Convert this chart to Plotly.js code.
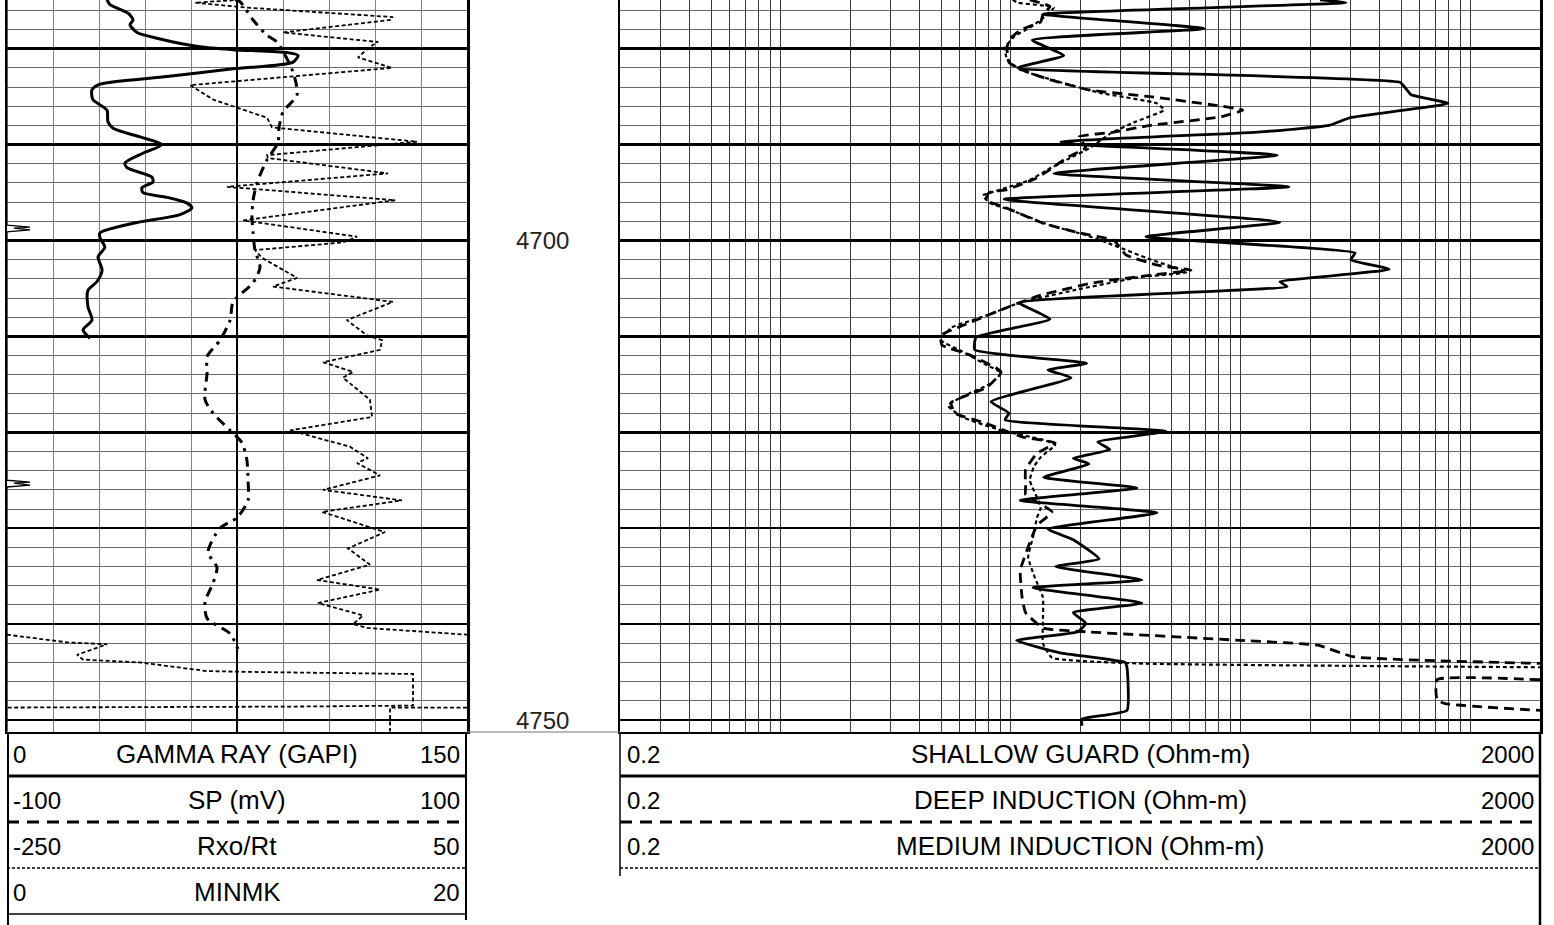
<!DOCTYPE html>
<html><head><meta charset="utf-8">
<script src="https://cdn.plot.ly/plotly-3.0.1.min.js"></script>
<style>html,body{margin:0;padding:0;background:#fff;}#chart{width:1554px;height:925px;}</style>
</head><body><div id="chart"></div>
<script>
// ---------------- DATA ----------------
const grDepth = [4674.9,4675.4,4676.3,4677.0,4677.5,4678.3,4678.9,4679.8,4680.1,4680.4,4680.7,4681.4,4682.1,4682.9,4683.7,4684.3,4685.3,4686.4,4687.6,4688.3,4689.2,4690.0,4690.9,4691.9,4692.4,4693.4,4693.9,4694.5,4695.0,4695.5,4696.1,4696.6,4697.3,4698.2,4699.2,4699.7,4700.7,4701.7,4703.1,4704.3,4705.2,4706.9,4708.3,4709.3,4710.2];
const grValue = [32.6,33.6,39.5,41.1,40.1,42.4,48.9,62.9,73.7,91.3,94.9,93.3,73.7,52.2,30.3,27.7,28.0,32.6,32.9,34.6,43.4,50.5,44.3,38.5,39.1,47.3,47.6,44.0,44.3,52.2,58.7,60.3,56.4,41.1,30.3,30.3,31.9,29.7,31.0,29.3,26.4,26.4,27.7,24.8,27.1];

const spDepth = [4674.9,4675.1,4677.0,4678.6,4679.3,4682.4,4684.8,4686.6,4688.2,4689.8,4691.6,4694.0,4695.8,4697.5,4699.2,4701.0,4702.8,4704.4,4706.4,4708.3,4710.4,4712.1,4713.8,4716.6,4718.0,4719.8,4721.1,4722.9,4725.0,4727.1,4728.9,4730.0,4732.5,4734.1,4735.7,4737.7,4739.4,4741.0,4742.6];
const spValue = [-0.9,1.3,7.0,13.0,17.4,24.3,26.1,20.0,18.3,17.8,13.0,8.7,7.0,6.5,7.0,7.8,10.0,7.0,-1.7,-3.0,-7.4,-13.0,-13.0,-13.9,-10.4,-3.0,2.2,4.3,4.8,4.8,0.0,-7.4,-12.6,-8.7,-10.4,-13.9,-13.0,-3.0,0.4];

const rxoDepth = [4674.9,4675.2,4675.7,4676.7,4677.0,4678.3,4679.3,4679.8,4680.9,4682.0,4683.8,4685.3,4687.2,4688.2,4689.7,4691.1,4691.4,4693.0,4694.4,4695.8,4697.9,4699.6,4700.2,4701.0,4701.8,4703.9,4704.8,4706.4,4708.3,4709.9,4710.4,4711.4,4712.7,4713.7,4714.3,4716.6,4718.4,4719.8,4721.5,4722.7,4723.2,4724.5,4726.0,4727.1,4728.3,4730.4,4732.1,4733.8,4735.4,4736.4,4737.8,4739.1,4740.0,4740.4,4741.1,null,4741.1,4741.9,4742.1,4743.2,4743.7,4744.0,4744.9,4745.0,4745.2,4748.5,4748.6,4748.7,null,4748.7,4748.7,4751.2];
const rxoValue = [-98.0,-127.4,-94.8,1.7,-0.2,-70.0,-8.0,-13.3,-21.1,1.1,-130.6,-115.6,-80.4,-77.2,17.4,-80.4,-79.8,-1.5,-106.5,3.1,-96.1,-21.7,-30.9,-88.3,-83.7,-60.9,-76.5,1.7,-28.3,-15.2,-5.4,-6.7,-43.9,-24.3,-30.9,-13.3,-11.9,-65.4,-26.3,-14.6,-21.7,-6.7,-43.9,7.6,-44.6,-3.5,-27.6,-13.3,-47.8,-6.7,-47.2,-17.8,-24.3,-15.2,50,null,-250,-210.9,-184.8,-204.3,-200.4,-163.3,-119.6,-85.0,14.8,14.8,-65.4,-250,null,50,-0.2,-0.2];

const minmkDepth = [4674.9,4698.4,4698.6,4698.7,4698.9,4699.1,4725.0,4725.2,4725.3,4725.5,4725.7,4751.2];
const minmkValue = [0,0,1.0,0.3,1.0,0,0,1.0,0.3,1.0,0,0];

const shallowDepth = [4674.9,4675.2,4676.4,4677.9,4679.1,4680.7,4682.0,4683.5,4684.3,4684.8,4685.7,4687.2,4688.0,4688.7,4689.7,4690.0,4691.1,4693.0,4694.4,4695.7,4698.1,4699.6,4701.3,4702.0,4703.0,4704.3,4704.8,4706.5,4708.2,4710.1,4711.4,4712.8,4713.5,4714.3,4716.8,4718.0,4718.7,4719.9,4721.0,4721.8,4722.7,4723.3,4724.7,4725.8,4727.1,4728.4,4730.1,4731.2,4733.2,4734.0,4735.4,4736.2,4737.8,4738.8,4739.9,4740.8,4741.7,4743.0,4744.0,4744.5,4749.0,4749.9,4750.6];
const shallowValue = [221,287,13.8,69.2,12.4,17.0,10.7,492,528,550,796,298,242,118,16.5,19.8,144,15.4,162,9.35,148,38.7,314,301,441,148,159,10.9,14.8,7.06,6.98,21.4,14.5,18.3,8.2,9.82,9.44,47.3,23.9,27.0,18.7,21.9,13.9,35.4,11.0,43.2,14.5,18.7,24.2,15.7,37.2,12.5,37.2,18.7,21.2,19.6,10.6,16.4,31.4,32.0,32.0,20.4,20.4];

const deepDepth = [4674.9,4675.6,4676.4,4677.2,4678.0,4678.9,4679.8,4681.4,4682.0,4683.1,4684.3,4685.0,4686.4,4687.1,4688.0,4688.7,4689.2,4690.3,4691.3,4692.6,4693.5,4694.7,4695.0,4695.8,4696.5,4698.2,4699.2,4700.0,4701.5,4702.6,4703.1,4703.6,4704.4,4705.7,4706.9,4708.6,4709.9,4710.9,4711.9,4713.7,4715.3,4716.9,4718.0,4719.0,4720.5,4721.1,4722.2,4723.9,4725.7,4726.5,4728.3,4729.7,4731.5,4734.4,4737.2,4738.8,4740.4,4740.8,4741.7,4742.2,4743.4,4744.1,null,4745.8,4745.8,4747.9,4748.3,4749.0];
const deepValue = [12.1,14.8,13.8,13.5,11.1,10.0,9.63,9.82,10.7,14.2,21.9,40.3,102,82.0,40.3,28.1,19.8,21.2,17.7,14.8,12.9,9.63,8.04,7.80,9.35,13.8,19.8,28.1,31.7,44.1,60.8,40.7,23.0,13.5,9.82,6.58,4.97,5.02,6.58,9.08,7.88,5.50,5.72,7.65,11.3,15.6,13.0,11.6,11.6,11.6,15.1,13.0,12.1,11.0,11.2,11.6,13.8,21.2,100,217,308,2000,null,2000,713,713,773,2000];

const mediumDepth = [4674.9,4675.2,4675.7,4677.0,4677.8,4678.7,4679.9,4681.1,4682.2,4683.3,4684.6,4685.7,4686.4,4687.6,4688.8,4690.4,4691.4,4692.6,4693.7,4694.7,4695.3,4696.1,4696.8,4698.4,4699.4,4700.3,4702.0,4703.3,4703.8,4705.2,4706.5,4707.8,4709.1,4710.4,4711.4,4713.0,4713.8,4714.9,4716.3,4717.2,4718.4,4719.8,4720.8,4721.3,4722.6,4723.6,4725.0,4727.8,4728.9,4730.9,4733.0,4735.1,4737.2,4739.6,4742.0,4743.5,4744.1,4744.5];
const mediumValue = [10.2,10.7,15.4,13.5,12.1,10.4,9.44,9.63,11.0,15.4,24.4,43.2,46.4,35.0,27.3,21.9,18.1,14.5,12.1,8.98,7.57,8.12,9.93,14.8,21.0,26.7,40.7,58.4,36.8,18.7,10.9,7.88,5.50,4.97,5.96,7.88,9.08,8.2,6.14,5.33,6.14,9.08,13.9,15.6,13.5,12.6,12.1,13.5,13.0,12.5,11.9,12.7,13.8,13.8,13.8,15.1,35.7,2000];

const depthLabels = [4700, 4750];
const leftCurveNames = ['GAMMA RAY (GAPI)', 'SP (mV)', 'Rxo/Rt', 'MINMK'];
const leftMins = ['0', '-100', '-250', '0'];
const leftMaxs = ['150', '100', '50', '20'];
const rightCurveNames = ['SHALLOW GUARD (Ohm-m)', 'DEEP INDUCTION (Ohm-m)', 'MEDIUM INDUCTION (Ohm-m)'];
const rightMins = ['0.2', '0.2', '0.2'];
const rightMaxs = ['2000', '2000', '2000'];
const grRange = [0, 150], spRange = [-100, 100], rxoRange = [-250, 50], minmkRange = [0, 20], resRange = [0.2, 2000];

// ---------------- LAYOUT ----------------
const W = 1554, H = 925, PB = 732;
const fx = p => p / W;
const fy = p => (PB - p) / PB;
const L0 = 7, L1 = 467, R0 = 620, R1 = 1540;
const depthTop = 4674.92, depthBottom = 4751.25;
const FONT = '"Liberation Sans", Arial, sans-serif';

const yCommon = {
  range: [depthBottom, depthTop], domain: [0, 1], tick0: 4680, dtick: 10,
  showgrid: true, gridcolor: '#000', gridwidth: 2.5,
  minor: {tick0: 4680, dtick: 2, showgrid: true, gridcolor: '#6a6a6a', gridwidth: 1},
  showticklabels: false, ticks: '', zeroline: false,
  showline: true, mirror: true, linecolor: '#000', linewidth: 2.5
};
const hidden = {showgrid: false, zeroline: false, showticklabels: false, ticks: '', showline: false};

const traces = [
  {x: grValue, y: grDepth, xaxis: 'x', yaxis: 'y', mode: 'lines', line: {color: '#000', width: 3, shape: 'spline', smoothing: 0.7}},
  {x: spValue, y: spDepth, xaxis: 'x2', yaxis: 'y', mode: 'lines', line: {color: '#000', width: 3, dash: '10px,6px,3px,6px', shape: 'spline', smoothing: 0.7}},
  {x: rxoValue, y: rxoDepth, xaxis: 'x3', yaxis: 'y', mode: 'lines', line: {color: '#000', width: 1.8, dash: '4px,2.5px'}},
  {x: minmkValue, y: minmkDepth, xaxis: 'x4', yaxis: 'y', mode: 'lines', line: {color: '#000', width: 1.3}},
  {x: shallowValue, y: shallowDepth, xaxis: 'x5', yaxis: 'y2', mode: 'lines', line: {color: '#000', width: 2.8, shape: 'spline', smoothing: 0.4}},
  {x: deepValue, y: deepDepth, xaxis: 'x5', yaxis: 'y2', mode: 'lines', line: {color: '#000', width: 2.8, dash: '10px,6px', shape: 'spline', smoothing: 0.4}},
  {x: mediumValue, y: mediumDepth, xaxis: 'x5', yaxis: 'y2', mode: 'lines', line: {color: '#000', width: 2.2, dash: '4px,3px', shape: 'spline', smoothing: 0.4}}
];

const shapes = [];
function hline(p, a, b, w, dash) {
  shapes.push({type: 'line', xref: 'paper', yref: 'paper', x0: fx(a), x1: fx(b), y0: fy(p), y1: fy(p), line: {color: '#000', width: w, dash: dash || 'solid'}});
}
function vline(p, a, b, w, color) {
  shapes.push({type: 'line', xref: 'paper', yref: 'paper', x0: fx(p), x1: fx(p), y0: fy(a), y1: fy(b), line: {color: color || '#000', width: w}});
}
// left header box
vline(8, PB, 925, 2);
vline(466, PB, 920, 2);
hline(776, L0, L1, 3);
hline(822, L0, L1, 3, '12px,8px');
hline(868, L0, L1, 1.5, '3px,2px');
hline(914, L0, L1, 1.5);
// right header box
vline(620, PB, 876, 1.5);
vline(1540, PB, 925, 2.5);
hline(776, R0, R1, 3);
hline(822, R0, R1, 3, '12px,8px');
hline(868, R0, R1, 1.5, '3px,2px');
// depth column bottom rule
shapes.push({type: 'line', xref: 'paper', yref: 'paper', x0: fx(L1), x1: fx(R0), y0: fy(PB), y1: fy(PB), line: {color: '#777', width: 1}});

const annotations = [];
const nameFont = {family: FONT, size: 26, color: '#000'};
const numFont = {family: FONT, size: 24, color: '#000'};
leftCurveNames.forEach((n, i) => {
  const yc = fy(754 + 46 * i);
  annotations.push({xref: 'paper', yref: 'paper', x: fx(11), y: yc, text: leftMins[i], showarrow: false, xanchor: 'left', yanchor: 'middle', font: numFont});
  annotations.push({xref: 'paper', yref: 'paper', x: fx(237), y: yc, text: n, showarrow: false, xanchor: 'center', yanchor: 'middle', font: nameFont});
  annotations.push({xref: 'paper', yref: 'paper', x: fx(462), y: yc, text: leftMaxs[i], showarrow: false, xanchor: 'right', yanchor: 'middle', font: numFont});
});
rightCurveNames.forEach((n, i) => {
  const yc = fy(754 + 46 * i);
  annotations.push({xref: 'paper', yref: 'paper', x: fx(625), y: yc, text: rightMins[i], showarrow: false, xanchor: 'left', yanchor: 'middle', font: numFont});
  annotations.push({xref: 'paper', yref: 'paper', x: fx(1080), y: yc, text: n, showarrow: false, xanchor: 'center', yanchor: 'middle', font: nameFont});
  annotations.push({xref: 'paper', yref: 'paper', x: fx(1536), y: yc, text: rightMaxs[i], showarrow: false, xanchor: 'right', yanchor: 'middle', font: numFont});
});
depthLabels.forEach(d => {
  annotations.push({xref: 'paper', yref: 'y', x: fx(542), y: d, text: String(d), showarrow: false, xanchor: 'center', yanchor: 'middle', font: {family: FONT, size: 24, color: '#222'}});
});

const layout = {
  width: W, height: H, margin: {l: 0, r: 0, t: 0, b: H - PB, pad: 0},
  paper_bgcolor: '#fff', plot_bgcolor: '#fff', showlegend: false,
  xaxis: {domain: [fx(L0), fx(L1)], range: grRange, tick0: 0, dtick: 15, showgrid: true, gridcolor: '#808080', gridwidth: 1,
          showticklabels: false, ticks: '', zeroline: false, showline: true, linecolor: '#000', linewidth: 2, anchor: 'y'},
  xaxis2: Object.assign({}, hidden, {overlaying: 'x', anchor: 'y', range: spRange, zeroline: true, zerolinecolor: '#000', zerolinewidth: 1.5}),
  xaxis3: Object.assign({}, hidden, {overlaying: 'x', anchor: 'y', range: rxoRange}),
  xaxis4: Object.assign({}, hidden, {overlaying: 'x', anchor: 'y', range: minmkRange}),
  xaxis5: {domain: [fx(R0), fx(R1)], type: 'log', range: [Math.log10(resRange[0]), Math.log10(resRange[1])], dtick: 'D1',
           showgrid: true, gridcolor: '#3a3a3a', gridwidth: 1, showticklabels: false, ticks: '', zeroline: false,
           showline: true, linecolor: '#000', linewidth: 2, anchor: 'y2'},
  yaxis: Object.assign({}, yCommon, {anchor: 'x'}),
  yaxis2: Object.assign({}, yCommon, {anchor: 'x5'}),
  shapes: shapes, annotations: annotations
};

Plotly.newPlot('chart', traces, layout, {staticPlot: true, displayModeBar: false});
</script>
</body></html>
